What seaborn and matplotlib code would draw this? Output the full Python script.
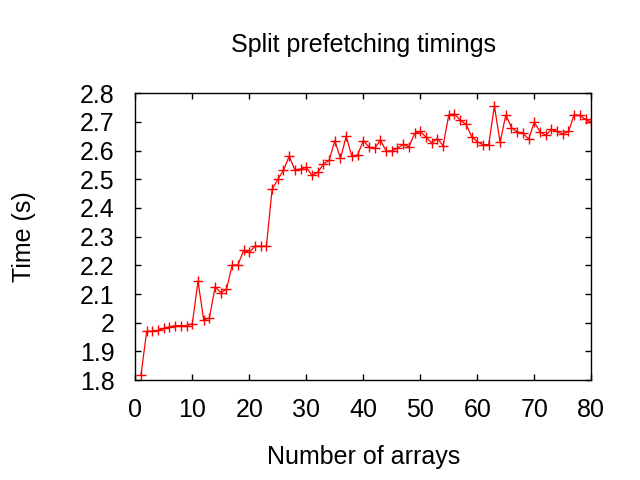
import matplotlib
matplotlib.use("Agg")
import matplotlib.pyplot as plt
import seaborn as sns
import pandas as pd

num_arrays = list(range(1, 81))
times = [1.818, 1.970, 1.970, 1.973, 1.980, 1.985, 1.990, 1.990, 1.990, 1.996,
         2.145, 2.009, 2.017, 2.125, 2.105, 2.116, 2.201, 2.201, 2.252, 2.245,
         2.267, 2.267, 2.267, 2.465, 2.500, 2.531, 2.581, 2.532, 2.536, 2.542,
         2.514, 2.524, 2.553, 2.566, 2.635, 2.573, 2.650, 2.580, 2.585, 2.635,
         2.613, 2.608, 2.637, 2.599, 2.599, 2.608, 2.622, 2.613, 2.660, 2.667,
         2.647, 2.627, 2.642, 2.617, 2.725, 2.728, 2.706, 2.693, 2.649, 2.631,
         2.621, 2.621, 2.756, 2.629, 2.725, 2.680, 2.665, 2.662, 2.640, 2.699,
         2.666, 2.653, 2.674, 2.667, 2.658, 2.667, 2.725, 2.723, 2.709, 2.700]
x_ticks = [0, 10, 20, 30, 40, 50, 60, 70, 80]
y_ticks = [1.8, 1.9, 2.0, 2.1, 2.2, 2.3, 2.4, 2.5, 2.6, 2.7, 2.8]
y_tick_labels = ["1.8", "1.9", "2", "2.1", "2.2", "2.3", "2.4", "2.5", "2.6", "2.7", "2.8"]

sns.set_style("ticks")
plt.rcParams['font.family'] = ['Liberation Sans', 'DejaVu Sans']
plt.rcParams['text.color'] = 'black'

df = pd.DataFrame({"n": num_arrays, "t": times})

fig = plt.figure(figsize=(6.4, 4.8), dpi=100)
ax = fig.add_axes([0.2114, 0.2083, 0.7125, 0.5973])
sns.lineplot(data=df, x="n", y="t", ax=ax, color="red", linewidth=0.9,
             marker="+", markersize=7, markeredgewidth=1.0, markeredgecolor="red")

ax.set_xlim(0, 80)
ax.set_ylim(1.8, 2.8)
ax.set_xticks(x_ticks)
ax.set_yticks(y_ticks)
ax.set_yticklabels(y_tick_labels)
ax.tick_params(direction="in", length=4, width=1, top=True, right=True,
               labelsize=18, colors="black")
ax.tick_params(axis="y", pad=15)
ax.tick_params(axis="x", pad=13)
for s in ax.spines.values():
    s.set_linewidth(1.0)
    s.set_color("black")

ax.set_title("Split prefetching timings", fontsize=18, pad=0, y=1.168, va="center", color="black")
ax.set_xlabel("Number of arrays", fontsize=18, color="black")
ax.set_ylabel("Time (s)", fontsize=18, color="black")
ax.xaxis.set_label_coords(0.5, -0.268)
ax.xaxis.label.set_va("center")
ax.yaxis.set_label_coords(-0.244, 0.5)
ax.yaxis.label.set_va("center")

fig.savefig("out.png", dpi=100)
